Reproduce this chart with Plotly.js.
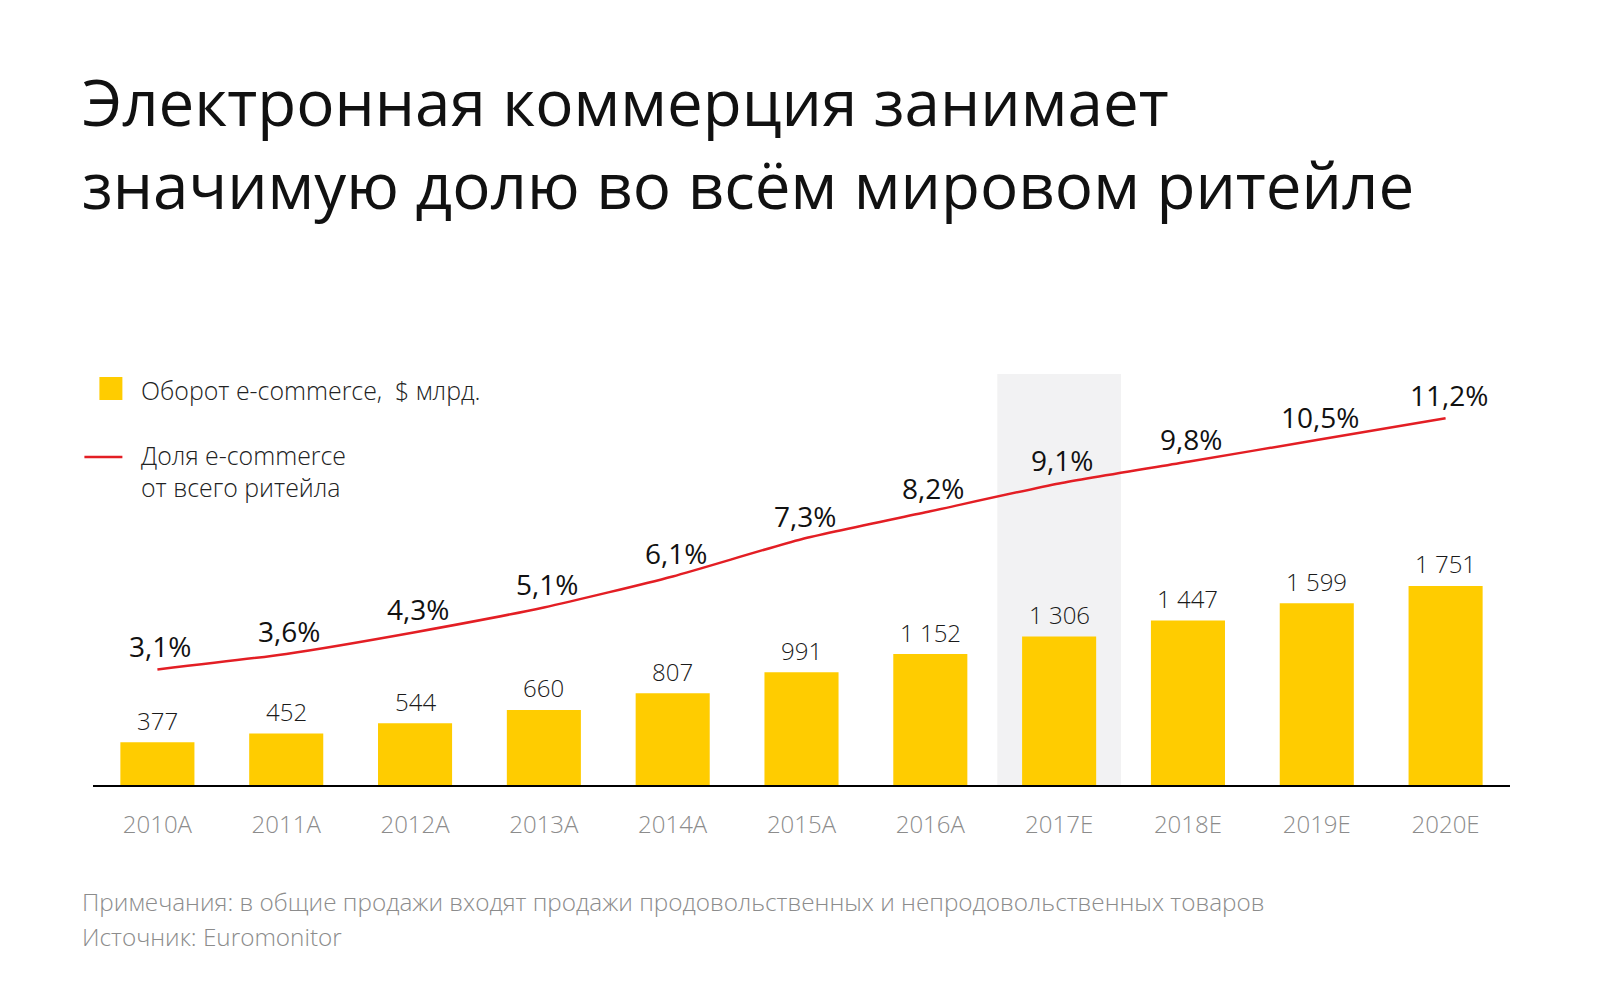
<!DOCTYPE html>
<html>
<head>
<meta charset="utf-8">
<script src="https://cdn.plot.ly/plotly-3.0.1.min.js"></script>
<style>html,body{margin:0;padding:0;background:#fff;}#chart{width:1600px;height:1000px;}</style>
</head>
<body>
<div id="chart"></div>
<script>
// ---- data ----
const years = ['2010A','2011A','2012A','2013A','2014A','2015A','2016A','2017E','2018E','2019E','2020E'];
const turnover = [377, 452, 544, 660, 807, 991, 1152, 1306, 1447, 1599, 1751];
const share = [3.1, 3.6, 4.3, 5.1, 6.1, 7.3, 8.2, 9.1, 9.8, 10.5, 11.2];
const highlightYear = '2017E';
const titleText = 'Электронная коммерция занимает<br>значимую долю во всём мировом ритейле';
const legendBar = 'Оборот e-commerce,  $ млрд.';
const legendLine = 'Доля e-commerce<br>от всего ритейла';
const note1 = 'Примечания: в общие продажи входят продажи продовольственных и непродовольственных товаров';
const note2 = 'Источник: Euromonitor';

// ---- layout helpers ----
const W = 1600, H = 1000;
const M = {l: 92.6, r: 90, t: 374, b: 215};
const PW = W - M.l - M.r, PH = H - M.t - M.b;
const px = x => (x - M.l) / PW;
const py = y => (H - M.b - y) / PH;
const FONT = 'Open Sans, sans-serif';

const fmt = v => String(v).replace(/\B(?=(\d{3})+(?!\d))/g, ' ');
const fmtPct = v => v.toFixed(1).replace('.', ',') + '%';

const bars = {
  type: 'bar', x: years, y: turnover, width: 0.575,
  marker: {color: '#FFCC00'}, hoverinfo: 'skip', showlegend: false
};
const line = {
  type: 'scatter', mode: 'lines', x: years, y: share, yaxis: 'y2',
  line: {color: '#E31E24', width: 2.5, shape: 'spline', smoothing: 0.6},
  hoverinfo: 'skip', showlegend: false
};

const annotations = [];
years.forEach((yr, i) => {
  annotations.push({
    x: yr, y: turnover[i], xref: 'x', yref: 'y', text: fmt(turnover[i]),
    showarrow: false, yanchor: 'middle', xanchor: 'center', yshift: 22,
    font: {family: FONT, size: 24, color: '#1a1a1a', weight: 300}
  });
  annotations.push({
    x: yr, y: share[i], xref: 'x', yref: 'y2', text: fmtPct(share[i]),
    showarrow: false, yanchor: 'middle', xanchor: 'center', yshift: 23, xshift: 3,
    font: {family: FONT, size: 28, color: '#111', weight: 500}
  });
});
annotations.push(
  {x: px(80), y: py(143), xref: 'paper', yref: 'paper', text: titleText, showarrow: false,
   xanchor: 'left', yanchor: 'middle', align: 'left',
   font: {family: FONT, size: 63.7, color: '#111', weight: 500}},
  {x: px(139), y: py(390), xref: 'paper', yref: 'paper', text: legendBar, showarrow: false,
   xanchor: 'left', yanchor: 'middle', align: 'left',
   font: {family: FONT, size: 24.9, color: '#222', weight: 300}},
  {x: px(139), y: py(471), xref: 'paper', yref: 'paper', text: legendLine, showarrow: false,
   xanchor: 'left', yanchor: 'middle', align: 'left',
   font: {family: FONT, size: 24.9, color: '#222', weight: 300}},
  {x: px(80), y: py(901), xref: 'paper', yref: 'paper', text: note1, showarrow: false,
   xanchor: 'left', yanchor: 'middle', align: 'left',
   font: {family: FONT, size: 24.3, color: '#8c8c8c', weight: 300}},
  {x: px(80), y: py(936), xref: 'paper', yref: 'paper', text: note2, showarrow: false,
   xanchor: 'left', yanchor: 'middle', align: 'left',
   font: {family: FONT, size: 24.3, color: '#8c8c8c', weight: 300}}
);

const hi = years.indexOf(highlightYear);
const shapes = [
  {type: 'rect', layer: 'below', xref: 'x', yref: 'paper', x0: hi - 0.48, x1: hi + 0.48, y0: 0, y1: 1,
   fillcolor: '#f2f2f3', line: {width: 0}},
  {type: 'rect', xref: 'paper', yref: 'paper', x0: px(99), x1: px(122), y0: py(400), y1: py(377),
   fillcolor: '#FFCC00', line: {width: 0}},
  {type: 'line', xref: 'paper', yref: 'paper', x0: px(84), x1: px(122), y0: py(457), y1: py(457),
   line: {color: '#E31E24', width: 2.5}}
];

const layout = {
  width: W, height: H, margin: M,
  paper_bgcolor: '#ffffff', plot_bgcolor: 'rgba(0,0,0,0)',
  showlegend: false, bargap: 0.425,
  xaxis: {
    type: 'category', range: [-0.5, years.length - 0.5], fixedrange: true,
    showline: true, linecolor: '#000', linewidth: 2, ticks: '', showgrid: false, zeroline: false,
    tickfont: {family: FONT, size: 24, color: '#8c8c8c', weight: 300}, ticklabelstandoff: 17
  },
  yaxis: {range: [0, 3615], visible: false, fixedrange: true},
  yaxis2: {range: [-0.629, 12.63], overlaying: 'y', visible: false, fixedrange: true},
  annotations: annotations, shapes: shapes
};

Plotly.newPlot('chart', [bars, line], layout, {displayModeBar: false, staticPlot: true});
</script>
</body>
</html>
